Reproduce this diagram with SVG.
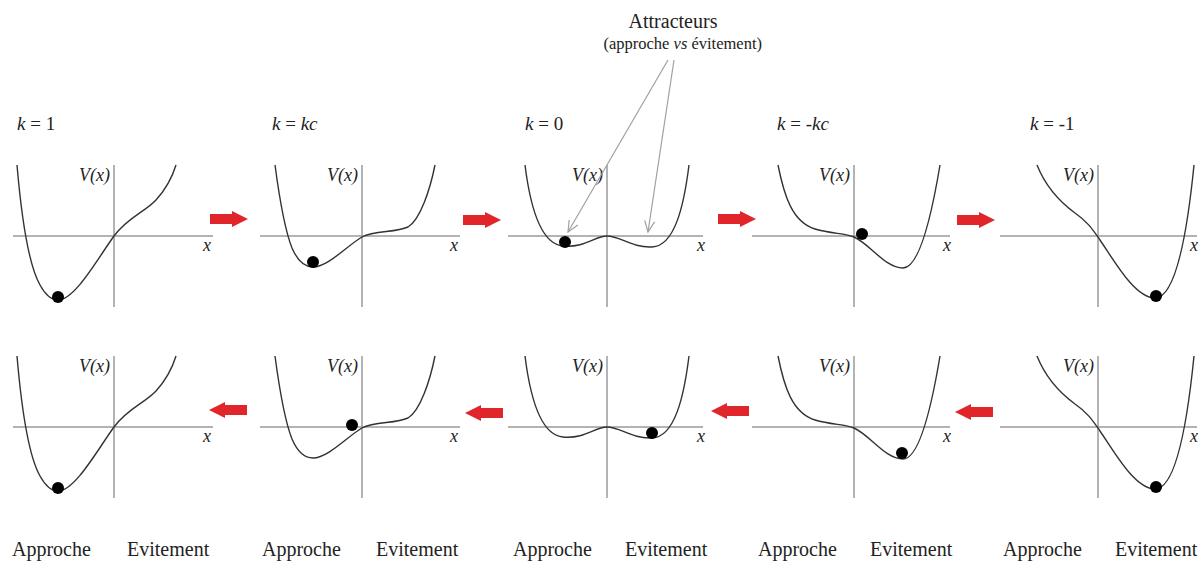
<svg xmlns="http://www.w3.org/2000/svg" width="1203" height="561" viewBox="0 0 1203 561">
<style>
.ax{stroke:#9a9a9a;stroke-width:1.5;fill:none}
.cv{stroke:#333;stroke-width:1.4;fill:none}
.ball{fill:#000}
.t{font-family:"Liberation Serif",serif;fill:#222}
.it{font-style:italic}
.lbl{font-size:19px}
.vx{font-size:18px;font-style:italic;text-anchor:end}
.xl{font-size:18px;font-style:italic}
.bot{font-size:20px}
.red{fill:#e1262b}
.pt{stroke:#a0a0a0;stroke-width:1.2;fill:none}
</style>
<defs>
<path id="arrR" d="M0,-5H22V-8L38,0L22,8V5H0Z"/>
<path id="arrL" d="M38,-5H16V-8L0,0L16,8V5H38Z"/>
<marker id="open" markerWidth="14" markerHeight="14" refX="12" refY="7" orient="auto" markerUnits="userSpaceOnUse">
<path d="M1,2 L12,7 L1,12" stroke="#a0a0a0" stroke-width="1.2" fill="none"/>
</marker>
<path id="c1" d="M17,165 C20,200 27,262 40,285 C46,296 52,300 58,300 C75,300 98,258 114,236 C128,217 145,212 156,200 C166,189 172,178 176,165"/>
<path id="c2" d="M275,165 C279,195 284,228 292,248 C298,262 305,267 313,267 C328,267 348,245 362,237 C375,230 395,233 408,227 C420,220 430,190 435,165"/>
<path id="c3" d="M525,165 C530,205 540,244 563,246 C585,248 595,236 607,236 C620,236 632,248 652,247 C675,246 684,205 689,165"/>
<path id="c4" d="M778,165 C784,195 792,222 815,229 C832,234 845,233 854,237 C870,244 885,268 903,268 C918,268 930,225 940,165"/>
<path id="c5" d="M1037,165 C1045,185 1060,202 1075,213 C1088,222 1093,230 1100,240 C1115,262 1135,298 1155,298 C1172,298 1185,255 1194,165"/>
</defs>
<rect width="1203" height="561" fill="#fff"/>

<g id="title" class="t">
<text x="673" y="28" font-size="20" text-anchor="middle">Attracteurs</text>
<text x="762" y="49" font-size="16.5" text-anchor="end">(approche <tspan class="it">vs</tspan> évitement)</text>
</g>

<g id="k-labels" class="t lbl">
<text x="17" y="130"><tspan class="it">k</tspan> = 1</text>
<text x="272" y="130"><tspan class="it">k</tspan> = <tspan class="it">kc</tspan></text>
<text x="525" y="130"><tspan class="it">k</tspan> = 0</text>
<text x="777" y="130"><tspan class="it">k</tspan> = <tspan class="it">-kc</tspan></text>
<text x="1030" y="130"><tspan class="it">k</tspan> = -1</text>
</g>

<g id="top-k1">
<line class="ax" x1="13" y1="236" x2="213" y2="236"/><line class="ax" x1="114" y1="165" x2="114" y2="307"/>
<use href="#c1" class="cv"/><circle class="ball" cx="58" cy="297" r="6"/>
<text class="t vx" x="110" y="181">V(x)</text><text class="t xl" x="203" y="251">x</text>
</g>
<g id="top-kc">
<line class="ax" x1="260" y1="236" x2="460" y2="236"/><line class="ax" x1="362" y1="165" x2="362" y2="307"/>
<use href="#c2" class="cv"/><circle class="ball" cx="313" cy="262" r="6"/>
<text class="t vx" x="358" y="181">V(x)</text><text class="t xl" x="450" y="251">x</text>
</g>
<g id="top-k0">
<line class="ax" x1="508" y1="236" x2="703" y2="236"/><line class="ax" x1="607" y1="165" x2="607" y2="307"/>
<use href="#c3" class="cv"/><circle class="ball" cx="565" cy="242" r="6"/>
<text class="t vx" x="603" y="181">V(x)</text><text class="t xl" x="697" y="251">x</text>
</g>
<g id="top-mkc">
<line class="ax" x1="752" y1="236" x2="950" y2="236"/><line class="ax" x1="854" y1="165" x2="854" y2="307"/>
<use href="#c4" class="cv"/><circle class="ball" cx="862" cy="234" r="6"/>
<text class="t vx" x="850" y="181">V(x)</text><text class="t xl" x="943" y="251">x</text>
</g>
<g id="top-m1">
<line class="ax" x1="1000" y1="236" x2="1197" y2="236"/><line class="ax" x1="1098" y1="165" x2="1098" y2="307"/>
<use href="#c5" class="cv"/><circle class="ball" cx="1156" cy="296" r="6"/>
<text class="t vx" x="1094" y="181">V(x)</text><text class="t xl" x="1190" y="251">x</text>
</g>

<g id="bot-k1" transform="translate(0,191)">
<line class="ax" x1="13" y1="236" x2="213" y2="236"/><line class="ax" x1="114" y1="165" x2="114" y2="307"/>
<use href="#c1" class="cv"/><circle class="ball" cx="58" cy="297" r="6"/>
<text class="t vx" x="110" y="181">V(x)</text><text class="t xl" x="203" y="251">x</text>
</g>
<g id="bot-kc" transform="translate(0,191)">
<line class="ax" x1="260" y1="236" x2="460" y2="236"/><line class="ax" x1="362" y1="165" x2="362" y2="307"/>
<use href="#c2" class="cv"/><circle class="ball" cx="352" cy="234" r="6"/>
<text class="t vx" x="358" y="181">V(x)</text><text class="t xl" x="450" y="251">x</text>
</g>
<g id="bot-k0" transform="translate(0,191)">
<line class="ax" x1="508" y1="236" x2="703" y2="236"/><line class="ax" x1="607" y1="165" x2="607" y2="307"/>
<use href="#c3" class="cv"/><circle class="ball" cx="652" cy="242" r="6"/>
<text class="t vx" x="603" y="181">V(x)</text><text class="t xl" x="697" y="251">x</text>
</g>
<g id="bot-mkc" transform="translate(0,191)">
<line class="ax" x1="752" y1="236" x2="950" y2="236"/><line class="ax" x1="854" y1="165" x2="854" y2="307"/>
<use href="#c4" class="cv"/><circle class="ball" cx="902" cy="262" r="6"/>
<text class="t vx" x="850" y="181">V(x)</text><text class="t xl" x="943" y="251">x</text>
</g>
<g id="bot-m1" transform="translate(0,191)">
<line class="ax" x1="1000" y1="236" x2="1197" y2="236"/><line class="ax" x1="1098" y1="165" x2="1098" y2="307"/>
<use href="#c5" class="cv"/><circle class="ball" cx="1156" cy="296" r="6"/>
<text class="t vx" x="1094" y="181">V(x)</text><text class="t xl" x="1190" y="251">x</text>
</g>

<g id="bottom-labels" class="t bot">
<text x="12" y="556">Approche</text><text x="127" y="556">Evitement</text>
<text x="262" y="556">Approche</text><text x="376" y="556">Evitement</text>
<text x="513" y="556">Approche</text><text x="625" y="556">Evitement</text>
<text x="758" y="556">Approche</text><text x="870" y="556">Evitement</text>
<text x="1003" y="556">Approche</text><text x="1115" y="556">Evitement</text>
</g>

<g id="connectors">
<line class="pt" x1="668" y1="60" x2="568" y2="232" marker-end="url(#open)"/>
<line class="pt" x1="674" y1="60" x2="648" y2="232" marker-end="url(#open)"/>
<use href="#arrR" class="red" x="210" y="219"/>
<use href="#arrR" class="red" x="463" y="220"/>
<use href="#arrR" class="red" x="718" y="219"/>
<use href="#arrR" class="red" x="957" y="220"/>
<use href="#arrL" class="red" x="209" y="410"/>
<use href="#arrL" class="red" x="465" y="413"/>
<use href="#arrL" class="red" x="711" y="411"/>
<use href="#arrL" class="red" x="955" y="412"/>
</g>
</svg>
